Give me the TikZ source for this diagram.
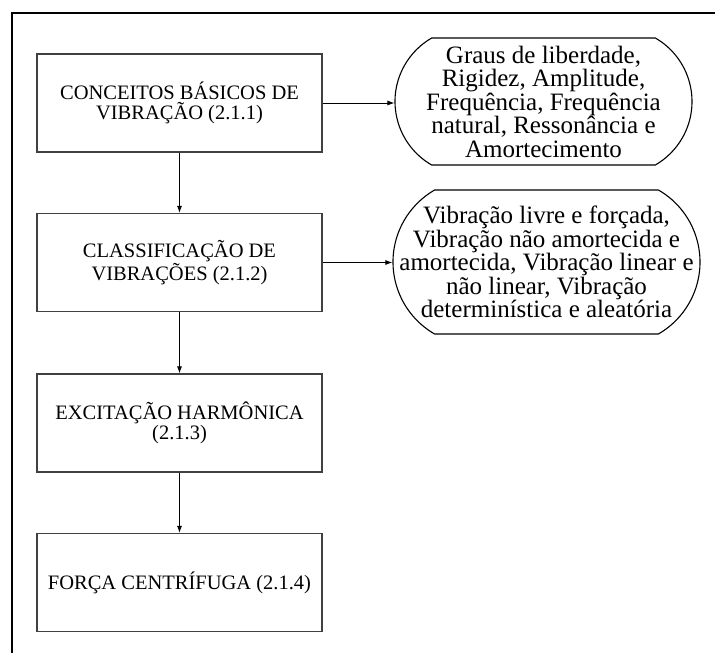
\documentclass[tikz,border=0pt]{standalone}
\usepackage{fontspec}
\setmainfont{Liberation Serif}
\usetikzlibrary{shapes.misc,arrows.meta}

\begin{document}
\begin{tikzpicture}[x=1pt,y=-1pt,
    topico/.style={draw=black!75,line width=1.2pt,minimum width=285pt,minimum height=98pt,align=center,inner sep=2pt,font=\fontsize{20.5}{20.5}\selectfont},
    balao/.style={draw,line width=1.1pt,rounded rectangle,rounded rectangle arc length=120,inner sep=0pt},
    baltexto/.style={align=center,inner sep=0pt,font=\fontsize{25}{23.5}\selectfont},
    seta/.style={-{Latex[length=7pt,width=5pt]},line width=0.9pt}]
    \useasboundingbox (0,0) rectangle (715,653);
    \draw[line width=2pt] (12,653) |- (715,13);
    % caixas da esquerda
    \node[topico] (t1) at (179.5,103) {CONCEITOS BÁSICOS DE\\VIBRAÇÃO (2.1.1)};
    \node[topico] (t2) at (179.5,262.5) {CLASSIFICAÇÃO DE\\VIBRAÇÕES (2.1.2)};
    \node[topico] (t3) at (179.5,423) {EXCITAÇÃO HARMÔNICA\\(2.1.3)};
    \node[topico] (t4) at (179.5,582.5) {FORÇA CENTRÍFUGA (2.1.4)};
    \foreach\i/\j in{1/2,2/3,3/4}{
        \draw[seta] (t\i) -- (t\j);
    }
    % baloes da direita
    \node[balao,minimum width=297pt,minimum height=127pt] (b1) at (543.5,101.5) {};
    \node[baltexto] (b1txt) at (b1) {Graus de liberdade,\\Rigidez, Amplitude,\\Frequência, Frequência\\natural, Ressonância e\\Amortecimento};
    \node[balao,minimum width=307pt,minimum height=144pt] (b2) at (546.5,262) {};
    \node[baltexto] (b2txt) at (b2) {Vibração livre e forçada,\\Vibração não amortecida e\\amortecida, Vibração linear e\\não linear, Vibração\\determinística e aleatória};
    \draw[seta] (t1.east) -- (t1.east -| b1.west);
    \draw[seta] (t2.east) -- (t2.east -| b2.west);
\end{tikzpicture}
\end{document}
